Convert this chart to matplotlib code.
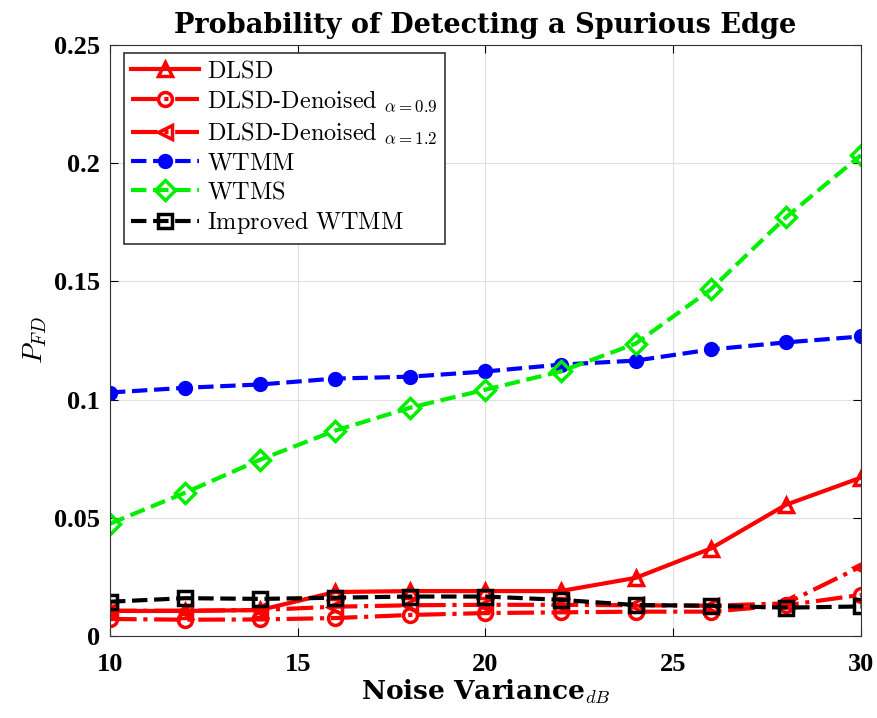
import numpy as np
import matplotlib
matplotlib.use('Agg')
import matplotlib.pyplot as plt

plt.rcParams['mathtext.fontset'] = 'cm'
plt.rcParams['font.family'] = ['Liberation Serif', 'DejaVu Serif']

# Data
noise_db = [10, 12, 14, 16, 18, 20, 22, 24, 26, 28, 30]
dlsd = [0.0106, 0.0106, 0.011, 0.0186, 0.019, 0.019, 0.019, 0.0246, 0.037, 0.0555, 0.067]
dlsd_den_09 = [0.0072, 0.0069, 0.007, 0.0076, 0.0089, 0.0097, 0.010, 0.0103, 0.0103, 0.013, 0.0174]
dlsd_den_12 = [0.0107, 0.0107, 0.011, 0.0124, 0.013, 0.0132, 0.0132, 0.013, 0.0128, 0.0138, 0.0294]
wtmm = [0.103, 0.105, 0.1064, 0.1089, 0.1097, 0.1119, 0.1148, 0.1165, 0.1212, 0.1242, 0.1267]
wtms = [0.0475, 0.0606, 0.0746, 0.0869, 0.0966, 0.1042, 0.1119, 0.1237, 0.1466, 0.1771, 0.2034]
improved_wtmm = [0.0145, 0.016, 0.0157, 0.0162, 0.0167, 0.0167, 0.0153, 0.0131, 0.0128, 0.012, 0.0125]

x_ticks = [10, 15, 20, 25, 30]
y_ticks = [0, 0.05, 0.1, 0.15, 0.2, 0.25]
y_tick_labels = ['0', '0.05', '0.1', '0.15', '0.2', '0.25']

fig = plt.figure(figsize=(8.77, 7.18), dpi=100)
ax = fig.add_axes([0.1254, 0.1142, 0.8563, 0.8231])

lw = 3
ms = 10
ax.plot(noise_db, dlsd, '-', color='red', lw=lw, marker='^', ms=ms, mfc='none', mew=2.5,
        label=r'$\mathrm{DLSD}$')
ax.plot(noise_db, dlsd_den_09, '-.', color='red', lw=lw, marker='o', ms=ms, mfc='none', mew=2.5,
        label=r'$\mathrm{DLSD\text{-}Denoised}\ _{\alpha=0.9}$')
ax.plot(noise_db, dlsd_den_12, '-.', color='red', lw=lw, marker='<', ms=ms, mfc='none', mew=2.5,
        label=r'$\mathrm{DLSD\text{-}Denoised}\ _{\alpha=1.2}$')
ax.plot(noise_db, wtmm, '--', color='blue', lw=lw, marker='o', ms=9, mfc='blue', mew=2,
        label=r'$\mathrm{WTMM}$')
ax.plot(noise_db, wtms, '--', color='#00ee00', lw=lw, marker='D', ms=ms, mfc='none', mew=2.5,
        label=r'$\mathrm{WTMS}$')
ax.plot(noise_db, improved_wtmm, '--', color='black', lw=lw, marker='s', ms=ms, mfc='none', mew=2.5,
        label=r'$\mathrm{Improved\ WTMM}$')

ax.set_xlim(10, 30)
ax.set_ylim(0, 0.25)
ax.set_xticks(x_ticks)
ax.set_yticks(y_ticks)
ax.set_yticklabels(y_tick_labels)
for lab in ax.get_xticklabels() + ax.get_yticklabels():
    lab.set_fontweight('bold')
    lab.set_fontsize(19)
ax.tick_params(direction='in', top=True, right=True, length=6, width=0.8)
ax.tick_params(axis='x', pad=12)
ax.tick_params(axis='y', pad=7)
ax.grid(True, color='#e0e0e0', lw=0.8)
for sp in ax.spines.values():
    sp.set_color('#333333')
    sp.set_linewidth(0.8)

ax.set_title('Probability of Detecting a Spurious Edge', fontsize=19.5, fontweight='bold',
             family='DejaVu Serif', pad=9)
ax.set_xlabel(r'Noise Variance$_{dB}$', fontsize=19, fontweight='bold',
              family='DejaVu Serif', labelpad=1)
ax.set_ylabel(r'$P_{FD}$', fontsize=20, labelpad=4)

leg = ax.legend(loc='upper left', bbox_to_anchor=(0.0186, 0.9865), borderaxespad=0,
                fontsize=17.5, fancybox=False, edgecolor='#333333',
                framealpha=1, handlelength=2.8, labelspacing=0.26,
                handletextpad=0.3, borderpad=0.3)
leg.get_frame().set_linewidth(1.2)

fig.savefig('out.png', dpi=100)
